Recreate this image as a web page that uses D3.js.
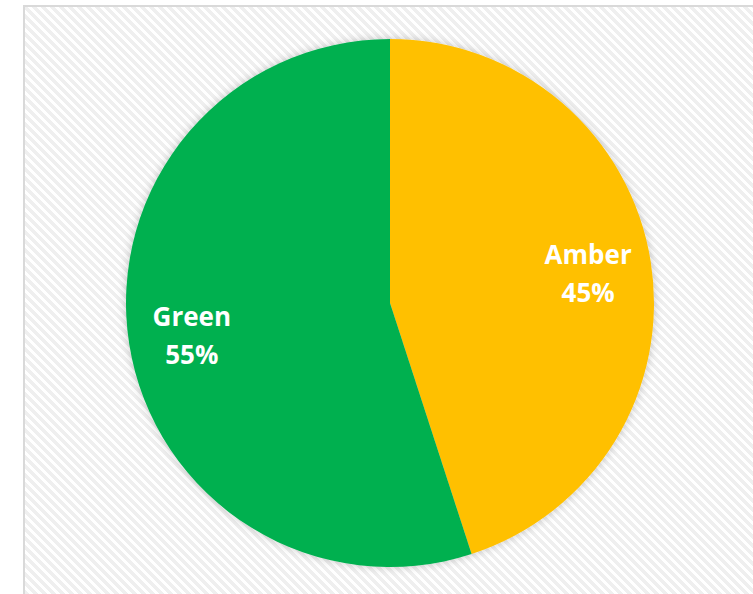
<!DOCTYPE html>
<html>
<head>
<meta charset="utf-8">
<script src="https://cdn.jsdelivr.net/npm/d3@7"></script>
<style>
html,body{margin:0;padding:0;background:#fff;}
svg{display:block;}
</style>
</head>
<body>
<svg id="chart" width="753" height="594"></svg>
<script>
const categories = ["Amber", "Green"];
const values = [45, 55];
const labels = ["45%", "55%"];
const colors = ["#FFC000", "#00B050"];

const svg = d3.select("#chart");
const W = 753, H = 594;
const defs = svg.append("defs");

const pat = defs.append("pattern")
  .attr("id", "diag")
  .attr("patternUnits", "userSpaceOnUse")
  .attr("width", 9).attr("height", 9);
pat.append("rect").attr("width", 9).attr("height", 9).attr("fill", "#ffffff");
pat.append("path")
  .attr("d", "M-2,-2 L11,11 M-2,7 L2,11 M7,-2 L11,2")
  .attr("stroke", "#efefef").attr("stroke-width", 4)
  .attr("shape-rendering", "crispEdges");

const flt = defs.append("filter").attr("id", "shadow")
  .attr("x", "-20%").attr("y", "-20%").attr("width", "140%").attr("height", "140%");
flt.append("feDropShadow").attr("dx", 0).attr("dy", 0)
  .attr("stdDeviation", 4).attr("flood-color", "#000").attr("flood-opacity", 0.22);

// chart area with border
svg.append("rect")
  .attr("x", 24).attr("y", 6).attr("width", W - 24 + 10).attr("height", H - 6 + 10)
  .attr("fill", "url(#diag)")
  .attr("stroke", "#d9d9d9").attr("stroke-width", 2);

const cx = 390, cy = 303, R = 264;
const pie = d3.pie().sort(null).value(d => d)(values);
const arc = d3.arc().innerRadius(0).outerRadius(R);
const labelArc = d3.arc().innerRadius(R * 0.76).outerRadius(R * 0.76);

const g = svg.append("g").attr("transform", `translate(${cx},${cy})`);
g.append("g").attr("filter", "url(#shadow)")
  .selectAll("path").data(pie).join("path")
  .attr("d", arc)
  .attr("fill", (d, i) => colors[i]);

const lab = g.selectAll("text.lbl").data(pie).join("text")
  .attr("class", "lbl")
  .attr("text-anchor", "middle")
  .attr("font-family", "'Open Sans', sans-serif")
  .attr("font-weight", "bold")
  .attr("font-size", 26)
  .attr("fill", "#ffffff")
  .attr("transform", d => { const c = labelArc.centroid(d); return `translate(${c[0]},${c[1]})`; });
lab.append("tspan").attr("x", 0).attr("y", -8).text((d, i) => categories[i]);
lab.append("tspan").attr("x", 0).attr("y", 30).text((d, i) => labels[i]);
</script>
</body>
</html>
